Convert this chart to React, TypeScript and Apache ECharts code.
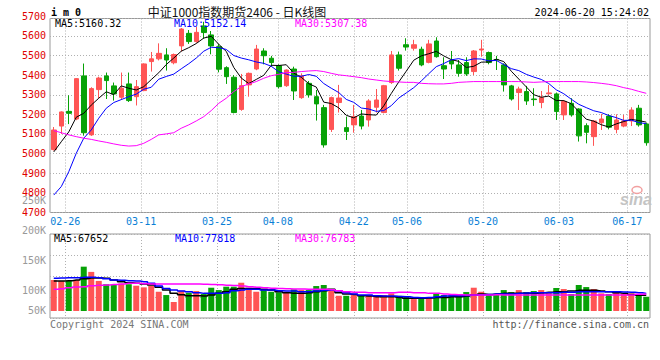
import { useEffect, useRef } from "react";
import * as echarts from "echarts";

const dates = ["02-22","02-23","02-26","02-27","02-28","02-29","03-01","03-04","03-05","03-06","03-07","03-08","03-11","03-12","03-13","03-14","03-15","03-18","03-19","03-20","03-21","03-22","03-25","03-26","03-27","03-28","03-29","04-01","04-02","04-03","04-08","04-09","04-10","04-11","04-12","04-15","04-16","04-17","04-18","04-19","04-22","04-23","04-24","04-25","04-26","04-29","04-30","05-06","05-07","05-08","05-09","05-10","05-13","05-14","05-15","05-16","05-17","05-20","05-21","05-22","05-23","05-24","05-27","05-28","05-29","05-30","05-31","06-03","06-04","06-05","06-06","06-07","06-11","06-12","06-13","06-14","06-17","06-18","06-19","06-20"];

const opens = [5020,5140,5215,5176,5396,5095,5326,5396,5345,5287,5355,5290,5321,5469,5483,5503,5463,5549,5613,5571,5651,5605,5545,5438,5389,5225,5350,5431,5523,5486,5448,5346,5431,5285,5358,5290,5234,5123,5260,5132,5146,5191,5171,5236,5209,5362,5503,5555,5537,5532,5465,5574,5448,5474,5452,5464,5418,5528,5515,5480,5452,5345,5311,5316,5278,5260,5305,5304,5197,5256,5227,5142,5086,5157,5191,5123,5140,5166,5231,5151];
const closes = [5120,5212,5205,5382,5106,5331,5385,5372,5304,5333,5270,5341,5457,5483,5511,5477,5505,5635,5571,5618,5617,5549,5430,5392,5209,5346,5409,5533,5499,5464,5341,5426,5319,5396,5299,5253,5044,5285,5283,5112,5188,5140,5268,5273,5346,5503,5435,5543,5555,5452,5559,5494,5431,5457,5409,5406,5523,5533,5464,5477,5350,5278,5329,5268,5275,5285,5309,5214,5265,5197,5090,5108,5166,5176,5134,5171,5166,5222,5146,5055];
const lows = [5015,5100,5150,5170,5091,5090,5282,5278,5270,5273,5263,5245,5318,5418,5475,5423,5455,5520,5559,5565,5585,5506,5414,5355,5205,5218,5290,5425,5455,5443,5332,5340,5273,5279,5285,5168,5030,5110,5209,5069,5106,5123,5137,5209,5205,5355,5423,5525,5525,5445,5460,5489,5380,5430,5392,5396,5400,5494,5455,5426,5316,5270,5222,5248,5243,5231,5299,5171,5171,5188,5061,5052,5039,5120,5123,5103,5134,5140,5137,5040];
const highs = [5135,5215,5297,5385,5459,5338,5392,5413,5362,5413,5413,5375,5460,5518,5562,5537,5510,5640,5630,5647,5672,5625,5559,5445,5400,5406,5413,5554,5537,5498,5455,5429,5443,5409,5370,5324,5248,5290,5350,5188,5248,5222,5277,5329,5350,5523,5520,5588,5580,5545,5580,5593,5491,5523,5477,5491,5528,5580,5520,5498,5460,5350,5341,5345,5333,5319,5350,5311,5273,5282,5231,5154,5171,5202,5200,5200,5197,5236,5248,5157];

const ma5 = [5008,5060,5110,5185,5205,5247,5282,5315,5300,5345,5333,5324,5341,5377,5412,5454,5487,5522,5540,5561,5589,5598,5557,5521,5439,5385,5357,5378,5399,5450,5449,5453,5410,5389,5356,5339,5262,5255,5233,5195,5182,5202,5198,5196,5243,5306,5365,5420,5476,5498,5509,5521,5498,5479,5470,5439,5445,5466,5467,5481,5469,5420,5380,5340,5300,5287,5293,5270,5270,5254,5215,5175,5165,5147,5135,5151,5163,5174,5168,5160];
const ma10 = [4788,4831,4907,5001,5078,5120,5180,5231,5260,5275,5290,5303,5328,5338,5379,5393,5405,5432,5458,5487,5522,5542,5540,5531,5500,5487,5478,5467,5460,5445,5417,5405,5394,5394,5403,5394,5357,5333,5311,5276,5261,5232,5227,5215,5219,5244,5283,5309,5336,5370,5407,5443,5459,5478,5484,5474,5483,5482,5473,5475,5454,5433,5423,5404,5390,5378,5357,5325,5305,5277,5251,5234,5218,5209,5194,5183,5169,5170,5158,5152];
const ma30 = [5117,5106,5095,5086,5078,5072,5064,5057,5049,5042,5038,5040,5052,5072,5095,5100,5106,5129,5146,5166,5188,5219,5256,5282,5316,5341,5355,5367,5384,5397,5404,5413,5414,5418,5421,5423,5418,5409,5401,5397,5392,5387,5380,5375,5370,5367,5365,5363,5363,5358,5356,5355,5355,5358,5363,5365,5367,5367,5367,5367,5367,5367,5367,5365,5363,5365,5367,5367,5367,5367,5367,5365,5362,5358,5353,5346,5336,5328,5317,5307];

const volumes = [117500,115800,116000,117500,139700,131000,116000,110500,110000,111500,110500,108000,105300,107800,98000,92500,81000,99700,96400,99200,94200,104700,100800,106400,106400,113000,104700,98000,102000,98000,97000,98000,102000,100800,100800,107500,109200,102500,91300,91300,92500,91300,92500,92500,92500,95300,91300,89700,85800,88000,88000,95300,92500,91300,89700,97500,104700,98000,92500,92500,100800,97500,100800,97500,99200,100800,96400,104200,102500,94200,109200,105800,102500,95300,94200,98000,95300,95300,94200,89700];
const volMa5 = [115800,115800,116400,117500,119700,120800,120800,120300,117500,114700,113000,112000,110800,109200,105300,100800,95300,93000,91300,91300,90800,92500,95300,98000,102000,103600,103600,103600,102000,100800,98000,96400,95300,95300,96400,98000,99700,102000,96400,94200,93600,91300,90800,89700,89700,89700,88600,87000,87000,87000,87500,88600,88600,89700,89700,90800,93000,94200,93600,94200,95300,95300,95300,95300,95300,96400,97000,98000,98000,99200,100300,100300,100300,99200,98000,96400,95300,93600,92000,92000];
const volMa10 = [120300,120800,121400,121400,121900,121900,121400,119700,117500,117000,116400,115800,114700,112000,107500,103600,100800,99200,98000,96400,95300,95300,95300,96400,99700,100800,102000,102000,100800,100800,99700,99200,99200,98000,98000,99200,100300,100800,99200,96400,94200,92500,92500,91300,90800,90800,90300,89700,88600,88000,88600,89700,90800,91300,91300,91900,92500,93000,93600,94200,94200,94200,95300,95800,96400,96400,96400,96400,97000,97000,98000,98000,98000,98000,98000,98000,97500,97000,96400,95300];
const volMa30 = [102000,103000,104500,106000,106300,108000,109000,109200,110000,111000,112000,112000,111500,111000,111000,111000,111000,110800,110800,110800,110500,110000,109500,109000,108500,107500,106500,105500,104700,104000,103500,103000,102700,102500,102300,102200,102000,101500,99700,98000,97000,97000,96400,96400,96400,96400,97000,97000,96400,96400,95300,95300,94200,93600,93000,92500,92500,92500,92500,93000,92500,92500,92500,92500,92500,92500,92500,92500,92500,92500,92500,92500,92500,92500,92500,92500,92500,92500,93900,94200];

const dateTicks = ["02-26","03-11","03-25","04-08","04-22","05-06","05-20","06-03","06-17"];

const RED = "#ff5555";
const GREEN = "#07a207";
const MONO = '"DejaVu Sans Mono", monospace';

export default function App() {
  const ref = useRef<HTMLDivElement>(null);
  useEffect(() => {
    document.body.style.margin = "0";
    const chart = echarts.init(ref.current!, null, { renderer: "svg" });
    const isTick = (_i: number, v: string) => dateTicks.indexOf(v) >= 0;
    const dotted = { color: "#b0b0b0", width: 1, type: [1, 2] };
    const txt = (x: number, y: number, text: string, fill: string, align = "left", font = `10px ${MONO}`) => ({
      type: "text", x, y, silent: true, z: 100,
      style: { text, fill, font, align, verticalAlign: "middle" },
    });
    const option: any = {
      animation: false,
      backgroundColor: "#ffffff",
      grid: [
        { left: 50, top: 16.3, width: 600, height: 196, show: false },
        { left: 50, top: 234, width: 600, height: 84, show: true, borderColor: "#999", borderWidth: 1, backgroundColor: "transparent" },
        { left: 50, top: 234, width: 600, height: 77, show: false },
        { left: 50, top: 200.5, width: 600, height: 120, show: false },
        { left: 50, top: 18.5, width: 600, height: 194, show: true, borderColor: "#999", borderWidth: 1, backgroundColor: "transparent" },
      ],
      xAxis: [
        { gridIndex: 0, type: "category", data: dates, boundaryGap: true, show: false },
        {
          gridIndex: 4, type: "category", data: dates, boundaryGap: false,
          axisLine: { show: false }, axisTick: { show: false },
          axisLabel: { interval: isTick, color: "#0a7fd6", fontFamily: MONO, fontSize: 10, margin: 4 },
          splitLine: { show: true, interval: isTick, lineStyle: dotted },
        },
        {
          gridIndex: 1, type: "category", data: dates, boundaryGap: false,
          axisLine: { show: false }, axisTick: { show: false }, axisLabel: { show: false },
          splitLine: { show: true, interval: isTick, lineStyle: dotted },
        },
        { gridIndex: 2, type: "category", data: dates, boundaryGap: true, show: false },
        { gridIndex: 3, type: "category", data: dates, show: false },
      ],
      yAxis: [
        {
          gridIndex: 0, type: "value", min: 4700, max: 5700, interval: 100,
          axisLine: { show: false }, axisTick: { show: false }, splitLine: { show: false },
          axisLabel: { color: "#e00000", fontFamily: MONO, fontSize: 10, margin: 4, formatter: (v: number) => String(v) },
        },
        {
          gridIndex: 4, type: "value", min: 4700, max: 4700 + 194 / 0.196, interval: 100,
          axisLine: { show: false }, axisTick: { show: false }, axisLabel: { show: false },
          splitLine: { show: true, lineStyle: dotted },
        },
        {
          gridIndex: 1, type: "value", min: 0, max: 4, interval: 1,
          axisLine: { show: false }, axisTick: { show: false }, axisLabel: { show: false },
          splitLine: { show: true, lineStyle: dotted },
        },
        { gridIndex: 2, type: "value", min: 66000, max: 194000, show: false },
        {
          gridIndex: 3, type: "value", min: 50000, max: 250000, interval: 50000,
          axisLine: { show: false }, axisTick: { show: false }, splitLine: { show: false },
          axisLabel: {
            color: "#999", fontFamily: MONO, fontSize: 10, margin: 4,
            formatter: (v: number) => (v === 50000 ? "{s|50K}" : v / 1000 + "K"),
            rich: { s: { color: "#999", fontFamily: MONO, fontSize: 10, padding: [0, 0, 20, 0] } },
          },
        },
      ],
      series: [
        {
          type: "candlestick", xAxisIndex: 0, yAxisIndex: 0, barWidth: 5,
          data: dates.map((_, i) => [opens[i], closes[i], lows[i], highs[i]]),
          itemStyle: { color: RED, color0: GREEN, borderColor: RED, borderColor0: GREEN, borderWidth: 1 },
        },
        { type: "line", xAxisIndex: 0, yAxisIndex: 0, data: ma5, symbol: "none", lineStyle: { color: "#000", width: 1 } },
        { type: "line", xAxisIndex: 0, yAxisIndex: 0, data: ma10, symbol: "none", lineStyle: { color: "#0000ff", width: 1 } },
        { type: "line", xAxisIndex: 0, yAxisIndex: 0, data: ma30, symbol: "none", lineStyle: { color: "#ff00ff", width: 1 } },
        {
          type: "bar", xAxisIndex: 3, yAxisIndex: 3, barWidth: 6,
          data: volumes.map((v, i) => ({ value: v, itemStyle: { color: closes[i] >= opens[i] ? RED : GREEN } })),
        },
        { type: "line", xAxisIndex: 3, yAxisIndex: 3, data: volMa5, symbol: "none", step: "middle", lineStyle: { color: "#000", width: 1.5 } },
        { type: "line", xAxisIndex: 3, yAxisIndex: 3, data: volMa10, symbol: "none", step: "middle", lineStyle: { color: "#0000ff", width: 1.5 } },
        { type: "line", xAxisIndex: 3, yAxisIndex: 3, data: volMa30, symbol: "none", step: "middle", lineStyle: { color: "#ff00ff", width: 1.5 } },
      ],
      graphic: [
        txt(51, 12, "i m 0", "#000", "left", `bold 10px ${MONO}`),
        txt(237, 11, "中证1000指数期货2406 - 日K线图", "#111", "center", '12px "Noto Sans CJK SC", sans-serif'),
        txt(649, 12, "2024-06-20 15:24:02", "#000", "right"),
        txt(55, 23.5, "MA5:5160.32", "#000"),
        txt(174, 23.5, "MA10:5152.14", "#0000ff"),
        txt(295, 23.5, "MA30:5307.38", "#ff00ff"),
        txt(54, 238.5, "MA5:67652", "#000"),
        txt(175, 238.5, "MA10:77818", "#0000ff"),
        txt(295, 238.5, "MA30:76783", "#ff00ff"),
        txt(50, 324.5, "Copyright 2024 SINA.COM", "#777"),
        txt(649, 324.5, "http://finance.sina.com.cn", "#555", "right"),
        txt(620, 199, "sina", "#c4c4c4", "left", 'italic bold 16px "Liberation Sans", sans-serif'),
        { type: "ellipse", shape: { cx: 637, cy: 190, rx: 5, ry: 3.5 }, style: { fill: "none", stroke: "#f2a0a0", lineWidth: 1.5 }, silent: true, z: 100 },
      ],
    };
    chart.setOption(option);
    return () => chart.dispose();
  }, []);
  return <div ref={ref} style={{ width: 660, height: 360 }} />;
}
